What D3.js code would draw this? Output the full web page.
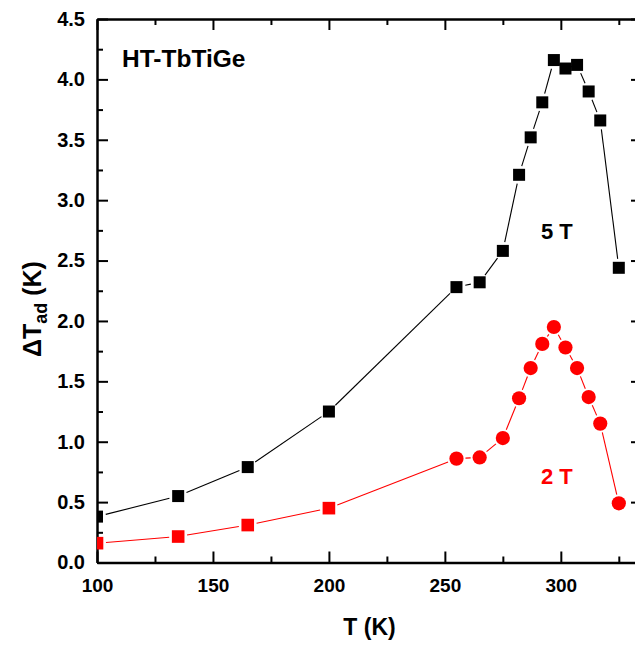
<!DOCTYPE html>
<html>
<head>
<meta charset="utf-8">
<script src="https://cdn.jsdelivr.net/npm/d3@7"></script>
<style>
  body { margin: 0; background: #fff; }
  svg text { font-family: "Liberation Sans", Arial, sans-serif; font-weight: bold; }
</style>
</head>
<body>
<div id="chart"></div>
<script>
// temperatures (K)
const temps = [100, 135, 165, 200, 255, 265, 275, 282, 287, 292, 297, 302, 307, 312, 317, 325];
// adiabatic temperature change, 5 T
const dT5 = [0.38, 0.55, 0.79, 1.25, 2.28, 2.32, 2.58, 3.21, 3.52, 3.81, 4.16, 4.09, 4.12, 3.90, 3.66, 2.44];
// adiabatic temperature change, 2 T
const dT2 = [0.16, 0.215, 0.31, 0.45, 0.86, 0.87, 1.03, 1.36, 1.61, 1.81, 1.95, 1.78, 1.61, 1.37, 1.15, 0.49];

const xTicks = [100, 150, 200, 250, 300];
const xMinor = [125, 175, 225, 275, 325];
const yTicks = [0, 0.5, 1, 1.5, 2, 2.5, 3, 3.5, 4, 4.5];
const yMinor = [0.25, 0.75, 1.25, 1.75, 2.25, 2.75, 3.25, 3.75, 4.25];

const W = 635, H = 649;
const pl = 97, pr = 642, pt = 19, pb = 562.5;

const svg = d3.select("#chart").append("svg")
  .attr("width", W).attr("height", H);

const x = d3.scaleLinear().domain([100, 335]).range([pl, pr]);
const y = d3.scaleLinear().domain([0, 4.5]).range([pb, pt]);

svg.append("clipPath").attr("id", "plot")
  .append("rect").attr("x", pl).attr("y", pt)
  .attr("width", pr - pl).attr("height", pb - pt);

// axes, ticks pointing inward on all four sides
function styleAxis(g) {
  g.select(".domain").attr("stroke", "#000").attr("stroke-width", 2.5);
  g.selectAll(".tick line").attr("stroke", "#000").attr("stroke-width", 2);
  g.selectAll(".tick text").attr("fill", "#000").style("font-weight", "bold");
}

svg.append("g").attr("transform", `translate(0,${pb})`)
  .call(d3.axisBottom(x).tickValues(xTicks).tickSizeInner(-11).tickSizeOuter(0).tickPadding(10))
  .call(styleAxis)
  .call(g => g.selectAll(".tick text").attr("font-size", 19).attr("dy", "1.05em"));
svg.append("g").attr("transform", `translate(0,${pb})`)
  .call(d3.axisBottom(x).tickValues(xMinor).tickSizeInner(-6).tickSizeOuter(0).tickFormat(""))
  .call(styleAxis).call(g => g.select(".domain").remove());

svg.append("g").attr("transform", `translate(0,${pt})`)
  .call(d3.axisTop(x).tickValues(xTicks).tickSizeInner(-11).tickSizeOuter(0).tickFormat(""))
  .call(styleAxis);
svg.append("g").attr("transform", `translate(0,${pt})`)
  .call(d3.axisTop(x).tickValues(xMinor).tickSizeInner(-6).tickSizeOuter(0).tickFormat(""))
  .call(styleAxis).call(g => g.select(".domain").remove());

svg.append("g").attr("transform", `translate(${pl},0)`)
  .call(d3.axisLeft(y).tickValues(yTicks).tickSizeInner(-11).tickSizeOuter(0).tickPadding(12)
    .tickFormat(d3.format(".1f")))
  .call(styleAxis)
  .call(g => g.selectAll(".tick text").attr("font-size", 20));
svg.append("g").attr("transform", `translate(${pl},0)`)
  .call(d3.axisLeft(y).tickValues(yMinor).tickSizeInner(-6).tickSizeOuter(0).tickFormat(""))
  .call(styleAxis).call(g => g.select(".domain").remove());

svg.append("g").attr("transform", `translate(${pr},0)`)
  .call(d3.axisRight(y).tickValues(yTicks).tickSizeInner(-11).tickSizeOuter(0).tickFormat(""))
  .call(styleAxis);
svg.append("g").attr("transform", `translate(${pr},0)`)
  .call(d3.axisRight(y).tickValues(yMinor).tickSizeInner(-6).tickSizeOuter(0).tickFormat(""))
  .call(styleAxis).call(g => g.select(".domain").remove());

// series
const plot = svg.append("g").attr("clip-path", "url(#plot)");

function drawSeries(vals, color, gap) {
  const pts = temps.map((t, i) => ({T: t, v: vals[i], px: x(t), py: y(vals[i])}));
  // connecting segments, stopped short of the symbols
  const segs = d3.pairs(pts);
  plot.append("g").selectAll("line")
    .data(segs).enter().append("line")
    .each(function([a, b]) {
      const dx = b.px - a.px, dy = b.py - a.py;
      const len = Math.hypot(dx, dy);
      const ux = dx / len, uy = dy / len;
      d3.select(this)
        .attr("x1", a.px + ux * gap).attr("y1", a.py + uy * gap)
        .attr("x2", b.px - ux * gap).attr("y2", b.py - uy * gap);
    })
    .attr("stroke", color).attr("stroke-width", 1.1);
  return pts;
}

const pts5 = drawSeries(dT5, "#000", 9);
plot.append("g").selectAll("rect")
  .data(pts5).enter().append("rect")
  .attr("x", d => d.px - 6).attr("y", d => d.py - 6)
  .attr("width", 12).attr("height", 12)
  .attr("fill", "#000");

const pts2 = drawSeries(dT2, "#ff0000", 9);
plot.append("g").selectAll("rect")
  .data(pts2.filter(d => d.T <= 200)).enter().append("rect")
  .attr("x", d => d.px - 6.3).attr("y", d => d.py - 6.3)
  .attr("width", 12.6).attr("height", 12.6)
  .attr("fill", "#ff0000");
plot.append("g").selectAll("circle")
  .data(pts2.filter(d => d.T > 200)).enter().append("circle")
  .attr("cx", d => d.px).attr("cy", d => d.py)
  .attr("r", 7.1)
  .attr("fill", "#ff0000");

// annotations
svg.append("text").attr("x", 122).attr("y", 66.5)
  .attr("font-size", 24.5).attr("fill", "#000").text("HT-TbTiGe");
svg.append("text").attr("x", 541).attr("y", 239)
  .attr("font-size", 22).attr("fill", "#000").text("5 T");
svg.append("text").attr("x", 541).attr("y", 484)
  .attr("font-size", 22).attr("fill", "#ff0000").text("2 T");

// axis titles
svg.append("text").attr("x", 369.5).attr("y", 635)
  .attr("text-anchor", "middle").attr("font-size", 23).text("T (K)");

const yt = svg.append("text")
  .attr("transform", "translate(41,309) rotate(-90)")
  .attr("text-anchor", "middle").attr("font-size", 25);
yt.append("tspan").text("ΔT");
yt.append("tspan").attr("font-size", 18).attr("dy", 6).text("ad");
yt.append("tspan").attr("dy", -6).text(" (K)");
</script>
</body>
</html>
